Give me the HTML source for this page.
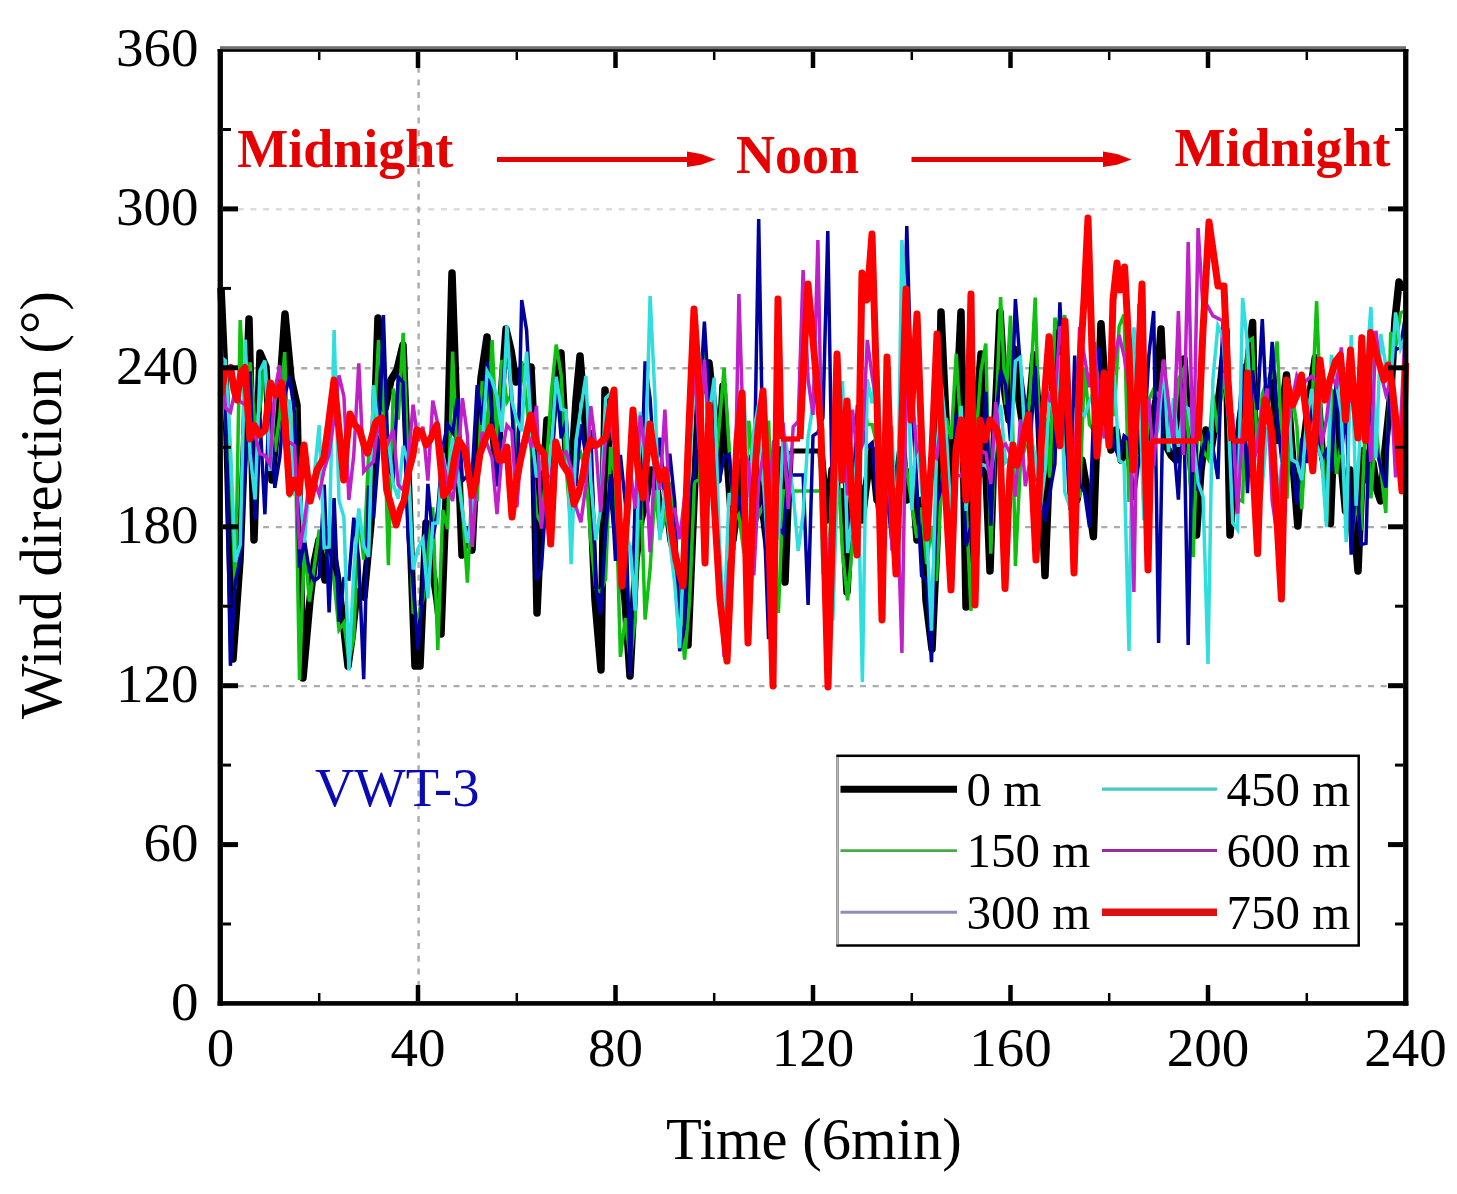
<!DOCTYPE html>
<html><head><meta charset="utf-8"><style>
html,body{margin:0;padding:0;background:#fff;width:1457px;height:1194px;overflow:hidden}
svg{display:block}
</style></head><body>
<svg width="1457" height="1194" viewBox="0 0 1457 1194">
<g stroke-width="2.4" stroke-dasharray="6 6.7"><line x1="225" y1="209.3" x2="1401" y2="209.3" stroke="#dcdcdc"/><line x1="225" y1="368.2" x2="1401" y2="368.2" stroke="#ababab"/><line x1="225" y1="527.1" x2="1401" y2="527.1" stroke="#ababab"/><line x1="225" y1="686.1" x2="1401" y2="686.1" stroke="#ababab"/><line x1="418.6" y1="54" x2="418.6" y2="999" stroke="#ababab"/></g>
<g><polyline fill="none" stroke="#000" stroke-width="7.5" stroke-linejoin="round" points="221.0,288.0 226.0,400.0 233.0,659.0 240.0,560.0 244.5,444.3 249.0,319.0 254.0,540.0 260.0,353.0 266.0,367.0 272.0,480.0 279.0,400.0 285.0,314.0 291.0,378.0 297.0,405.0 303.0,678.0 310.0,600.0 314.5,561.2 319.0,540.0 325.0,580.0 331.0,540.0 337.0,575.0 343.0,620.0 348.0,666.0 352.0,637.3 356.0,600.0 360.0,591.1 364.0,597.0 371.0,523.0 378.0,318.0 385.0,409.0 391.0,380.0 397.0,370.0 403.0,345.0 409.0,500.0 415.0,666.0 420.0,666.0 426.0,523.0 431.0,560.0 437.0,600.0 441.0,634.0 446.0,500.0 452.0,273.0 457.0,420.0 462.0,555.0 467.0,530.0 472.0,550.0 477.0,450.0 481.0,378.0 487.0,337.0 492.0,420.0 497.0,480.0 501.0,400.0 506.0,329.0 511.0,350.0 516.0,382.0 521.0,370.0 525.0,367.0 531.0,367.0 533.0,409.0 537.0,613.0 542.0,500.0 547.0,420.0 551.0,440.0 556.0,380.0 561.0,353.0 566.0,450.0 571.0,480.0 576.0,400.0 580.0,356.0 585.0,420.0 590.0,480.0 595.0,600.0 601.0,670.0 605.0,390.0 610.0,470.0 615.0,520.0 620.0,560.0 625.0,600.0 630.0,676.0 636.0,560.0 641.0,520.0 646.0,500.0 651.0,470.0 656.0,480.0 661.0,520.0 666.0,500.0 671.0,540.0 676.0,560.0 682.0,600.0 688.0,645.0 694.0,500.0 700.0,370.0 705.0,390.0 709.0,363.0 714.0,409.0 718.0,480.0 723.0,386.0 728.0,470.0 733.0,540.0 738.0,500.0 743.0,460.0 748.0,470.0 753.0,456.0 759.0,491.0 764.0,520.0 769.0,560.0 775.0,520.0 780.0,450.0 785.0,582.0 790.0,451.0"/><polyline fill="none" stroke="#000" stroke-width="5" stroke-linejoin="round" points="790.0,451.0 821.0,451.0"/><polyline fill="none" stroke="#000" stroke-width="7.5" stroke-linejoin="round" points="821.0,451.0 827.0,520.0 832.0,470.0 837.0,500.0 842.0,492.0 847.0,592.0 852.0,500.0 857.0,470.0 862.0,520.0 867.0,480.0 872.0,450.0 877.0,500.0 882.0,470.0 887.0,430.0 892.0,520.0 897.0,480.0 902.0,440.0 907.0,500.0 912.0,470.0 917.0,540.0 922.0,500.0 926.0,600.0 932.0,649.0 937.0,540.0 941.0,312.0 946.0,420.0 951.0,500.0 956.0,420.0 961.0,312.0 966.0,607.0 971.0,500.0 976.0,420.0 981.0,354.0 985.0,450.0 990.0,571.0 995.0,420.0 1000.0,312.0 1005.0,394.0 1009.0,420.0 1014.0,349.0 1018.0,394.0 1022.0,420.0 1026.0,430.0 1030.0,400.0 1034.0,355.0 1039.0,420.0 1045.0,575.5 1050.0,450.0 1053.0,380.0 1057.0,329.0 1062.0,394.0 1067.0,440.0 1072.0,470.0 1077.0,500.0 1082.0,460.0 1087.0,490.0 1093.4,536.6 1097.0,430.0 1101.0,323.7 1106.0,400.0 1111.0,450.0 1116.0,430.0 1121.0,460.0 1126.0,440.0 1131.0,470.0 1136.0,430.0 1141.0,450.0 1146.0,470.0 1151.0,430.0 1156.0,400.0 1161.0,329.0 1166.0,445.7 1171.0,455.0 1176.0,460.0 1180.0,413.6 1184.0,359.0 1190.0,450.0 1196.5,535.0 1201.0,470.0 1206.0,430.0 1211.0,450.0 1216.0,420.0 1221.0,380.0 1226.0,330.0 1230.0,535.0 1235.0,470.0 1240.0,420.0 1246.0,380.0 1252.6,322.6 1255.0,450.0 1260.0,430.0 1266.0,400.0 1272.6,372.8 1276.4,440.6 1281.0,420.0 1286.5,375.0 1292.0,450.0 1297.8,526.0 1303.0,450.0 1309.0,400.0 1315.3,357.8 1322.0,450.0 1326.2,481.8 1330.4,523.5 1335.4,393.0 1340.0,450.0 1345.5,511.0 1350.0,470.0 1354.0,520.0 1358.0,571.0 1363.0,450.7 1368.0,480.0 1373.0,463.0 1377.0,490.0 1380.6,501.0 1385.0,450.0 1390.7,395.0 1395.0,320.0 1399.0,282.0 1404.0,290.0"/><polyline fill="none" stroke="#10c010" stroke-width="3.5" points="220.5,362.2 225.4,420.4 230.4,464.1 235.3,588.9 240.2,320.0 245.2,407.0 250.1,362.5 255.1,427.7 260.0,407.0 264.9,363.2 269.9,412.4 274.8,451.7 279.8,415.2 284.7,352.1 289.6,497.5 294.6,407.4 299.5,680.0 304.4,542.4 309.4,601.5 314.3,566.6 319.2,529.8 324.2,546.1 329.1,560.7 334.1,581.2 339.0,629.9 343.9,622.8 348.9,660.0 353.8,638.1 358.8,512.4 363.7,559.6 368.6,454.8 373.6,438.4 378.5,340.0 383.4,392.6 388.4,565.1 393.3,388.6 398.2,419.7 403.2,332.9 408.1,464.8 413.1,612.3 418.0,615.9 422.9,599.8 427.9,552.0 432.8,507.4 437.8,650.0 442.7,510.0 447.6,529.1 452.6,351.6 457.5,467.1 462.4,508.3 467.4,582.6 472.3,480.9 477.2,501.1 482.2,381.2 487.1,439.2 492.1,340.0 497.0,445.5 501.9,359.9 506.9,402.0 511.8,393.8 516.8,464.0 521.7,361.0 526.6,401.9 531.6,453.9 536.5,514.0 541.4,524.3 546.4,466.6 551.3,393.2 556.2,344.6 561.2,375.4 566.1,466.8 571.1,529.3 576.0,464.1 580.9,453.8 585.9,471.6 590.8,540.5 595.8,589.3 600.7,592.1 605.6,578.7 610.6,446.9 615.5,480.0 620.4,656.9 625.4,618.0 630.3,660.3 635.2,617.0 640.2,468.1 645.1,619.5 650.1,569.0 655.0,490.0 659.9,534.7 664.9,518.9 669.8,481.9 674.8,550.7 679.7,602.1 684.6,659.7 689.6,600.5 694.5,482.0 699.4,479.3 704.4,346.0 709.3,434.9 714.2,484.7 719.2,426.3 724.1,367.9 729.1,447.7 734.0,521.9 738.9,514.3 743.9,553.1 748.8,420.7 753.8,473.4 758.7,515.8 763.6,504.3 768.6,420.5 773.5,563.2 778.4,613.0 783.4,491.0 788.3,491.0 793.2,491.0 798.2,491.0 803.1,491.0 808.1,491.0 813.0,491.0 817.9,491.0 822.9,491.0 827.8,592.0 832.8,459.8 837.7,461.9 842.6,554.4 847.6,600.4 852.5,542.5 857.4,504.1 862.4,389.6 867.3,424.2 872.2,424.7 877.2,446.2 882.1,498.0 887.1,448.8 892.0,524.9 896.9,487.2 901.9,444.9 906.8,470.5 911.8,504.2 916.7,538.1 921.6,507.5 926.6,564.0 931.5,526.0 936.4,580.8 941.4,488.1 946.3,418.2 951.2,439.0 956.2,353.8 961.1,434.7 966.1,502.7 971.0,610.8 975.9,439.8 980.9,371.1 985.8,343.5 990.8,553.6 995.7,425.8 1000.6,297.0 1005.6,404.7 1010.5,315.7 1015.4,565.9 1020.4,464.2 1025.3,446.9 1030.2,392.9 1035.2,297.6 1040.1,456.7 1045.1,417.8 1050.0,477.6 1054.9,317.7 1059.9,334.0 1064.8,315.1 1069.8,490.4 1074.7,440.8 1079.6,497.7 1084.6,367.3 1089.5,424.6 1094.4,430.9 1099.4,353.6 1104.3,427.3 1109.2,400.3 1114.2,415.9 1119.1,326.7 1124.1,314.5 1129.0,502.0 1133.9,389.4 1138.9,376.7 1143.8,503.9 1148.8,399.8 1153.7,388.9 1158.6,396.5 1163.6,382.4 1168.5,439.4 1173.4,437.7 1178.4,379.6 1183.3,369.8 1188.2,433.4 1193.2,557.2 1198.1,414.9 1203.1,450.4 1208.0,458.6 1212.9,394.4 1217.9,432.5 1222.8,373.1 1227.8,407.2 1232.7,438.4 1237.6,498.9 1242.6,501.5 1247.5,341.6 1252.4,338.5 1257.4,451.8 1262.3,393.8 1267.2,381.3 1272.2,377.0 1277.1,341.6 1282.1,455.3 1287.0,498.6 1291.9,390.2 1296.9,426.7 1301.8,509.1 1306.8,409.1 1311.7,415.3 1316.6,301.2 1321.6,434.0 1326.5,522.0 1331.4,388.6 1336.4,473.9 1341.3,442.7 1346.2,500.4 1351.2,541.4 1356.1,502.7 1361.1,530.4 1366.0,402.1 1370.9,498.5 1375.9,426.1 1380.8,470.2 1385.8,513.0 1390.7,332.4 1395.6,346.1 1400.6,313.1 1405.5,310.6"/><polyline fill="none" stroke="#00009c" stroke-width="3.5" points="220.5,355.5 225.4,391.7 230.4,665.8 235.3,581.5 240.2,560.2 245.2,469.9 250.1,371.5 255.1,519.4 260.0,418.9 264.9,514.3 269.9,388.8 274.8,487.8 279.8,457.3 284.7,396.2 289.6,375.9 294.6,413.9 299.5,567.6 304.4,539.8 309.4,571.5 314.3,581.1 319.2,577.0 324.2,484.5 329.1,612.5 334.1,498.0 339.0,621.8 343.9,578.6 348.9,579.0 353.8,517.7 358.8,559.8 363.7,679.3 368.6,485.7 373.6,518.1 378.5,453.6 383.4,315.0 388.4,468.3 393.3,477.2 398.2,376.8 403.2,382.4 408.1,537.7 413.1,583.7 418.0,649.7 422.9,588.1 427.9,483.8 432.8,538.4 437.8,510.1 442.7,447.7 447.6,424.3 452.6,432.4 457.5,398.3 462.4,480.8 467.4,475.9 472.3,472.4 477.2,385.1 482.2,424.7 487.1,361.6 492.1,415.4 497.0,486.5 501.9,404.1 506.9,329.2 511.8,404.4 516.8,504.6 521.7,300.0 526.6,330.2 531.6,424.7 536.5,580.3 541.4,568.1 546.4,491.2 551.3,486.3 556.2,377.7 561.2,438.4 566.1,420.7 571.1,482.8 576.0,484.2 580.9,424.3 585.9,456.3 590.8,429.8 595.8,588.0 600.7,614.5 605.6,532.0 610.6,474.4 615.5,560.9 620.4,454.9 625.4,503.3 630.3,676.0 635.2,498.9 640.2,519.6 645.1,361.4 650.1,398.6 655.0,476.1 659.9,437.7 664.9,499.3 669.8,453.7 674.8,502.4 679.7,651.1 684.6,623.5 689.6,486.5 694.5,475.0 699.4,408.2 704.4,321.7 709.3,404.9 714.2,420.6 719.2,481.9 724.1,457.0 729.1,454.5 734.0,508.3 738.9,497.8 743.9,524.8 748.8,469.6 753.8,502.6 758.7,219.0 763.6,500.9 768.6,639.2 773.5,538.8 778.4,528.0 783.4,533.6 788.3,475.0 793.2,475.0 798.2,475.0 803.1,475.0 808.1,605.0 813.0,435.9 817.9,432.4 822.9,418.0 827.8,231.0 832.8,529.2 837.7,487.6 842.6,458.8 847.6,523.8 852.5,508.4 857.4,405.2 862.4,429.2 867.3,447.4 872.2,442.8 877.2,506.3 882.1,538.8 887.1,495.3 892.0,543.1 896.9,573.5 901.9,445.9 906.8,226.0 911.8,401.0 916.7,482.3 921.6,575.7 926.6,581.1 931.5,662.2 936.4,505.1 941.4,486.6 946.3,437.9 951.2,566.3 956.2,413.7 961.1,435.3 966.1,546.1 971.0,525.5 975.9,465.6 980.9,476.7 985.8,391.9 990.8,525.7 995.7,420.8 1000.6,370.2 1005.6,385.0 1010.5,441.0 1015.4,299.1 1020.4,367.8 1025.3,405.1 1030.2,443.5 1035.2,366.3 1040.1,479.8 1045.1,521.4 1050.0,491.4 1054.9,464.1 1059.9,302.4 1064.8,406.4 1069.8,509.5 1074.7,355.5 1079.6,483.5 1084.6,492.5 1089.5,526.9 1094.4,392.5 1099.4,348.0 1104.3,433.5 1109.2,421.6 1114.2,444.9 1119.1,457.9 1124.1,435.9 1129.0,439.9 1133.9,500.2 1138.9,460.1 1143.8,443.2 1148.8,356.2 1153.7,311.0 1158.6,643.0 1163.6,369.2 1168.5,440.7 1173.4,438.5 1178.4,499.6 1183.3,383.8 1188.2,645.0 1193.2,388.5 1198.1,490.8 1203.1,447.2 1208.0,432.9 1212.9,448.1 1217.9,479.0 1222.8,321.8 1227.8,356.3 1232.7,500.4 1237.6,442.9 1242.6,363.8 1247.5,493.1 1252.4,370.5 1257.4,409.8 1262.3,319.2 1267.2,423.3 1272.2,341.8 1277.1,417.0 1282.1,463.3 1287.0,414.4 1291.9,454.9 1296.9,504.5 1301.8,438.3 1306.8,463.0 1311.7,402.4 1316.6,441.8 1321.6,459.9 1326.5,450.6 1331.4,471.2 1336.4,376.2 1341.3,454.5 1346.2,407.7 1351.2,554.6 1356.1,473.4 1361.1,544.4 1366.0,543.4 1370.9,363.9 1375.9,446.4 1380.8,467.5 1385.8,487.6 1390.7,366.5 1395.6,349.7 1400.6,347.2 1405.5,315.1"/><polyline fill="none" stroke="#30dede" stroke-width="3.5" points="220.5,356.9 225.4,360.6 230.4,445.1 235.3,562.0 240.2,544.7 245.2,339.7 250.1,453.4 255.1,499.5 260.0,370.7 264.9,360.6 269.9,471.0 274.8,399.2 279.8,381.8 284.7,428.4 289.6,399.5 294.6,491.8 299.5,485.3 304.4,542.6 309.4,480.7 314.3,474.7 319.2,425.2 324.2,547.8 329.1,547.0 334.1,330.0 339.0,500.5 343.9,517.3 348.9,670.6 353.8,570.8 358.8,508.4 363.7,546.0 368.6,556.8 373.6,385.2 378.5,430.7 383.4,443.4 388.4,440.6 393.3,484.3 398.2,498.7 403.2,446.0 408.1,461.8 413.1,569.5 418.0,548.5 422.9,539.3 427.9,598.3 432.8,523.4 437.8,522.7 442.7,452.7 447.6,478.8 452.6,437.9 457.5,472.8 462.4,511.5 467.4,542.8 472.3,512.3 477.2,469.8 482.2,446.7 487.1,371.4 492.1,380.4 497.0,396.6 501.9,431.8 506.9,325.6 511.8,400.7 516.8,420.2 521.7,431.4 526.6,351.7 531.6,434.4 536.5,477.3 541.4,464.6 546.4,479.1 551.3,448.1 556.2,376.7 561.2,409.1 566.1,410.5 571.1,564.3 576.0,440.9 580.9,408.2 585.9,376.1 590.8,481.3 595.8,540.2 600.7,508.3 605.6,398.3 610.6,393.2 615.5,436.0 620.4,552.7 625.4,532.4 630.3,546.8 635.2,610.5 640.2,411.9 645.1,473.3 650.1,296.0 655.0,397.9 659.9,540.2 664.9,489.9 669.8,541.7 674.8,584.2 679.7,648.2 684.6,536.2 689.6,470.4 694.5,366.6 699.4,352.3 704.4,510.7 709.3,414.2 714.2,377.8 719.2,538.5 724.1,621.6 729.1,493.0 734.0,510.4 738.9,403.0 743.9,392.5 748.8,496.9 753.8,431.0 758.7,403.8 763.6,482.2 768.6,560.6 773.5,510.3 778.4,539.5 783.4,430.0 788.3,456.4 793.2,494.3 798.2,551.0 803.1,514.1 808.1,436.9 813.0,404.7 817.9,364.5 822.9,574.2 827.8,536.5 832.8,620.9 837.7,471.0 842.6,381.0 847.6,553.0 852.5,514.0 857.4,446.7 862.4,682.0 867.3,379.3 872.2,403.3 877.2,363.4 882.1,480.9 887.1,490.9 892.0,426.2 896.9,560.0 901.9,240.0 906.8,323.3 911.8,510.0 916.7,424.9 921.6,490.2 926.6,529.1 931.5,630.6 936.4,459.1 941.4,384.5 946.3,432.9 951.2,521.9 956.2,475.3 961.1,405.9 966.1,510.8 971.0,447.9 975.9,449.3 980.9,464.3 985.8,465.7 990.8,474.1 995.7,439.6 1000.6,404.8 1005.6,462.3 1010.5,457.5 1015.4,361.2 1020.4,357.2 1025.3,443.7 1030.2,431.1 1035.2,457.7 1040.1,509.0 1045.1,471.2 1050.0,391.1 1054.9,419.8 1059.9,355.3 1064.8,492.1 1069.8,507.0 1074.7,481.9 1079.6,411.9 1084.6,415.6 1089.5,401.3 1094.4,390.1 1099.4,434.2 1104.3,402.6 1109.2,443.6 1114.2,375.0 1119.1,460.4 1124.1,463.6 1129.0,651.0 1133.9,327.4 1138.9,366.1 1143.8,520.1 1148.8,493.5 1153.7,444.4 1158.6,426.8 1163.6,360.4 1168.5,452.2 1173.4,398.1 1178.4,446.8 1183.3,406.3 1188.2,408.4 1193.2,440.3 1198.1,483.2 1203.1,496.6 1208.0,664.0 1212.9,379.5 1217.9,325.9 1222.8,336.3 1227.8,404.1 1232.7,522.8 1237.6,529.6 1242.6,298.0 1247.5,344.5 1252.4,435.1 1257.4,519.2 1262.3,486.9 1267.2,426.8 1272.2,455.2 1277.1,496.7 1282.1,461.4 1287.0,379.7 1291.9,459.7 1296.9,462.7 1301.8,480.0 1306.8,420.6 1311.7,389.0 1316.6,444.9 1321.6,458.6 1326.5,527.2 1331.4,354.9 1336.4,383.1 1341.3,413.0 1346.2,542.3 1351.2,335.1 1356.1,505.8 1361.1,418.8 1366.0,373.6 1370.9,307.0 1375.9,457.8 1380.8,334.1 1385.8,365.8 1390.7,383.3 1395.6,312.4 1400.6,348.4 1405.5,335.9"/><polyline fill="none" stroke="#c020c8" stroke-width="3.5" points="220.5,337.4 225.4,407.9 230.4,412.2 235.3,390.0 240.2,401.5 245.2,404.7 250.1,422.0 255.1,435.7 260.0,453.9 264.9,455.3 269.9,464.4 274.8,390.0 279.8,365.3 284.7,445.6 289.6,442.3 294.6,445.6 299.5,549.2 304.4,522.2 309.4,480.2 314.3,480.7 319.2,494.4 324.2,469.5 329.1,453.8 334.1,418.3 339.0,375.5 343.9,396.4 348.9,499.8 353.8,454.8 358.8,363.4 363.7,471.8 368.6,466.1 373.6,461.6 378.5,418.6 383.4,454.5 388.4,441.5 393.3,429.8 398.2,484.8 403.2,490.1 408.1,463.3 413.1,404.7 418.0,441.2 422.9,426.7 427.9,480.7 432.8,400.7 437.8,424.0 442.7,457.9 447.6,485.1 452.6,501.0 457.5,465.4 462.4,398.2 467.4,435.1 472.3,546.8 477.2,475.2 482.2,431.9 487.1,444.0 492.1,458.1 497.0,514.0 501.9,454.0 506.9,425.2 511.8,431.0 516.8,507.4 521.7,444.3 526.6,431.1 531.6,447.2 536.5,405.9 541.4,528.6 546.4,476.9 551.3,475.3 556.2,449.5 561.2,455.1 566.1,452.0 571.1,467.7 576.0,507.2 580.9,522.3 585.9,484.9 590.8,406.1 595.8,445.8 600.7,512.1 605.6,437.0 610.6,425.3 615.5,451.4 620.4,583.4 625.4,520.1 630.3,469.7 635.2,508.7 640.2,415.5 645.1,451.1 650.1,552.2 655.0,458.0 659.9,489.8 664.9,409.5 669.8,509.4 674.8,509.2 679.7,539.1 684.6,496.9 689.6,438.6 694.5,364.8 699.4,450.1 704.4,359.6 709.3,443.2 714.2,519.0 719.2,573.2 724.1,657.0 729.1,561.3 734.0,548.8 738.9,294.0 743.9,451.7 748.8,463.5 753.8,575.5 758.7,482.0 763.6,452.0 768.6,506.6 773.5,441.7 778.4,435.9 783.4,427.5 788.3,508.9 793.2,426.7 798.2,421.6 803.1,270.0 808.1,379.8 813.0,415.0 817.9,240.0 822.9,512.6 827.8,605.3 832.8,470.8 837.7,419.3 842.6,421.6 847.6,495.3 852.5,409.6 857.4,457.4 862.4,444.7 867.3,339.9 872.2,377.1 877.2,405.7 882.1,498.7 887.1,430.6 892.0,550.7 896.9,487.8 901.9,653.0 906.8,344.4 911.8,386.9 916.7,451.0 921.6,441.6 926.6,496.1 931.5,452.6 936.4,457.8 941.4,423.8 946.3,517.7 951.2,519.9 956.2,475.2 961.1,476.1 966.1,459.1 971.0,402.1 975.9,449.2 980.9,451.2 985.8,452.8 990.8,484.0 995.7,402.1 1000.6,448.6 1005.6,444.1 1010.5,454.4 1015.4,496.6 1020.4,419.3 1025.3,486.1 1030.2,460.1 1035.2,480.5 1040.1,480.4 1045.1,386.9 1050.0,400.8 1054.9,400.9 1059.9,326.2 1064.8,363.1 1069.8,471.3 1074.7,468.9 1079.6,327.0 1084.6,357.7 1089.5,387.3 1094.4,342.0 1099.4,409.3 1104.3,438.4 1109.2,399.2 1114.2,361.2 1119.1,335.0 1124.1,356.0 1129.0,387.1 1133.9,592.0 1138.9,303.7 1143.8,456.1 1148.8,398.8 1153.7,466.0 1158.6,402.8 1163.6,359.5 1168.5,401.8 1173.4,443.1 1178.4,311.0 1183.3,455.0 1188.2,242.0 1193.2,472.1 1198.1,228.0 1203.1,310.6 1208.0,306.6 1212.9,315.9 1217.9,318.4 1222.8,320.8 1227.8,413.4 1232.7,415.1 1237.6,513.7 1242.6,426.2 1247.5,404.2 1252.4,473.0 1257.4,442.1 1262.3,406.8 1267.2,388.5 1272.2,501.0 1277.1,534.7 1282.1,465.7 1287.0,429.1 1291.9,401.4 1296.9,375.6 1301.8,384.6 1306.8,380.1 1311.7,376.4 1316.6,380.9 1321.6,444.9 1326.5,418.9 1331.4,377.2 1336.4,385.5 1341.3,347.5 1346.2,407.6 1351.2,397.2 1356.1,389.1 1361.1,432.2 1366.0,380.6 1370.9,462.0 1375.9,330.7 1380.8,373.4 1385.8,394.2 1390.7,382.2 1395.6,477.3 1400.6,425.8 1405.5,321.2"/><polyline fill="none" stroke="#ff0000" stroke-width="7" stroke-linejoin="round" points="221.0,395.0 225.0,372.0 230.7,367.5 234.0,390.0 237.0,400.0 241.0,372.0 245.0,367.5 249.8,439.0 254.0,425.0 259.4,435.0 265.0,430.0 270.5,383.0 276.0,395.0 281.6,383.0 285.0,420.0 289.6,493.0 294.4,480.0 299.0,493.0 304.0,445.0 310.3,501.0 317.0,470.0 323.8,458.0 329.0,420.0 334.0,380.0 339.0,430.0 343.7,480.0 347.0,440.0 350.0,414.0 355.0,425.0 359.6,430.0 364.0,445.0 367.6,453.0 371.0,440.0 375.5,423.0 378.0,420.0 381.9,418.0 386.7,490.0 391.0,505.0 396.2,525.0 400.0,510.0 404.0,501.0 409.0,470.0 412.9,455.3 416.7,430.0 421.7,432.0 426.0,445.0 430.0,440.0 436.8,425.0 443.5,495.6 450.0,487.0 454.3,459.1 458.6,440.0 465.0,450.0 472.0,495.6 476.0,481.8 480.0,453.7 485.0,440.0 490.4,427.0 494.6,439.5 498.8,460.0 502.9,460.0 507.0,447.0 512.0,517.0 516.2,482.9 520.5,460.0 525.0,440.0 530.6,415.0 537.0,445.0 544.0,454.0 550.7,544.0 555.7,442.0 562.4,464.0 569.0,474.0 574.0,504.0 578.2,494.4 582.5,477.0 586.8,452.2 591.0,440.0 595.0,445.7 599.0,443.7 606.0,437.0 610.0,407.6 614.0,390.0 618.0,492.0 622.0,586.0 628.0,500.0 633.0,410.0 638.0,470.0 643.0,498.0 650.0,424.0 655.0,460.0 660.0,480.0 665.0,470.0 670.0,520.0 676.0,560.0 683.0,586.0 688.0,450.0 694.0,309.0 700.0,400.0 705.0,563.0 709.0,405.0 714.0,500.0 720.0,600.0 727.0,661.0 732.0,550.0 737.0,440.0 742.0,393.0 748.0,643.0 753.0,500.0 758.0,430.0 763.0,391.0 768.0,500.0 773.0,686.0 778.0,299.0 781.0,439.0"/><polyline fill="none" stroke="#ff0000" stroke-width="5.3" stroke-linejoin="round" points="781.0,439.0 800.0,439.0"/><polyline fill="none" stroke="#ff0000" stroke-width="7" stroke-linejoin="round" points="800.0,439.0 804.0,357.4 808.0,284.0 815.0,363.0 821.0,430.0 828.0,687.0 832.5,526.4 837.0,354.0 842.0,480.0 847.0,401.0 852.0,500.0 857.0,555.0 862.0,273.0 867.0,300.0 872.0,234.0 877.0,400.0 882.0,620.0 887.0,357.0 891.0,480.0 896.0,574.0 901.0,450.0 906.0,289.0 911.0,420.0 917.0,314.0 922.0,450.0 927.0,538.0 932.0,450.0 937.0,334.0 941.0,420.0 946.0,500.0 951.0,590.0 956.0,450.0 961.0,420.0 966.0,500.0 971.0,294.0 975.0,605.0 980.0,420.0 985.0,440.0 990.0,420.0 997.0,430.0 1000.0,445.0 1005.0,588.5 1010.0,470.0 1013.0,445.0 1017.0,465.0 1021.0,450.0 1025.0,430.0 1028.5,414.6 1032.0,480.0 1036.0,560.0 1042.0,430.0 1049.0,336.7 1054.0,400.0 1060.0,445.7 1065.0,321.0 1070.0,450.0 1074.0,573.0 1080.5,357.5 1084.0,300.0 1088.0,218.0 1092.0,350.0 1097.0,456.0 1104.0,373.0 1109.0,445.7 1113.0,300.0 1117.0,263.0 1120.0,290.0 1124.6,267.0 1129.0,350.0 1133.0,470.0 1137.0,400.0 1142.0,284.0 1145.0,450.0 1148.0,570.0 1151.0,441.0"/><polyline fill="none" stroke="#ff0000" stroke-width="5.3" stroke-linejoin="round" points="1151.0,441.0 1198.0,441.0"/><polyline fill="none" stroke="#ff0000" stroke-width="7" stroke-linejoin="round" points="1198.0,441.0 1203.0,330.0 1209.0,222.0 1213.0,250.0 1218.0,286.0 1224.0,286.0 1228.0,380.0 1232.0,441.0"/><polyline fill="none" stroke="#ff0000" stroke-width="5.3" stroke-linejoin="round" points="1232.0,441.0 1245.0,441.0"/><polyline fill="none" stroke="#ff0000" stroke-width="7" stroke-linejoin="round" points="1245.0,441.0 1247.5,373.0 1252.0,450.0 1257.6,553.6 1261.0,450.0 1265.0,400.0 1268.8,411.9 1272.6,440.0 1277.0,520.0 1281.4,599.0 1286.5,380.0 1292.7,405.0 1297.1,394.3 1301.5,375.0 1307.0,420.0 1312.8,470.8 1320.0,360.0 1325.0,400.0 1330.4,378.0 1335.4,361.7 1340.4,355.0 1345.5,420.0 1350.5,350.0 1354.2,401.0 1358.0,438.0 1361.8,337.7 1365.6,440.6 1370.6,332.6 1375.0,350.0 1380.6,367.8 1384.0,380.0 1388.0,365.0 1391.8,382.8 1395.7,418.0 1402.0,491.0 1405.7,363.0"/></g>
<g stroke="#000"><line x1="223" y1="924.0" x2="231" y2="924.0" stroke-width="3"/><line x1="1403" y1="924.0" x2="1395" y2="924.0" stroke-width="3"/><line x1="223" y1="844.6" x2="238" y2="844.6" stroke-width="5"/><line x1="1403" y1="844.6" x2="1388" y2="844.6" stroke-width="5"/><line x1="223" y1="765.1" x2="231" y2="765.1" stroke-width="3"/><line x1="1403" y1="765.1" x2="1395" y2="765.1" stroke-width="3"/><line x1="223" y1="685.7" x2="238" y2="685.7" stroke-width="5"/><line x1="1403" y1="685.7" x2="1388" y2="685.7" stroke-width="5"/><line x1="223" y1="606.2" x2="231" y2="606.2" stroke-width="3"/><line x1="1403" y1="606.2" x2="1395" y2="606.2" stroke-width="3"/><line x1="223" y1="526.8" x2="238" y2="526.8" stroke-width="5"/><line x1="1403" y1="526.8" x2="1388" y2="526.8" stroke-width="5"/><line x1="223" y1="447.3" x2="231" y2="447.3" stroke-width="3"/><line x1="1403" y1="447.3" x2="1395" y2="447.3" stroke-width="3"/><line x1="223" y1="367.8" x2="238" y2="367.8" stroke-width="5"/><line x1="1403" y1="367.8" x2="1388" y2="367.8" stroke-width="5"/><line x1="223" y1="288.4" x2="231" y2="288.4" stroke-width="3"/><line x1="1403" y1="288.4" x2="1395" y2="288.4" stroke-width="3"/><line x1="223" y1="208.9" x2="238" y2="208.9" stroke-width="5"/><line x1="1403" y1="208.9" x2="1388" y2="208.9" stroke-width="5"/><line x1="223" y1="129.5" x2="231" y2="129.5" stroke-width="3"/><line x1="1403" y1="129.5" x2="1395" y2="129.5" stroke-width="3"/><line x1="319.2" y1="1001" x2="319.2" y2="993" stroke-width="2.5"/><line x1="319.2" y1="52" x2="319.2" y2="60" stroke-width="2.5"/><line x1="418.0" y1="1001" x2="418.0" y2="985" stroke-width="4.5"/><line x1="418.0" y1="52" x2="418.0" y2="68" stroke-width="4.5"/><line x1="516.8" y1="1001" x2="516.8" y2="993" stroke-width="2.5"/><line x1="516.8" y1="52" x2="516.8" y2="60" stroke-width="2.5"/><line x1="615.5" y1="1001" x2="615.5" y2="985" stroke-width="4.5"/><line x1="615.5" y1="52" x2="615.5" y2="68" stroke-width="4.5"/><line x1="714.2" y1="1001" x2="714.2" y2="993" stroke-width="2.5"/><line x1="714.2" y1="52" x2="714.2" y2="60" stroke-width="2.5"/><line x1="813.0" y1="1001" x2="813.0" y2="985" stroke-width="4.5"/><line x1="813.0" y1="52" x2="813.0" y2="68" stroke-width="4.5"/><line x1="911.8" y1="1001" x2="911.8" y2="993" stroke-width="2.5"/><line x1="911.8" y1="52" x2="911.8" y2="60" stroke-width="2.5"/><line x1="1010.5" y1="1001" x2="1010.5" y2="985" stroke-width="4.5"/><line x1="1010.5" y1="52" x2="1010.5" y2="68" stroke-width="4.5"/><line x1="1109.2" y1="1001" x2="1109.2" y2="993" stroke-width="2.5"/><line x1="1109.2" y1="52" x2="1109.2" y2="60" stroke-width="2.5"/><line x1="1208.0" y1="1001" x2="1208.0" y2="985" stroke-width="4.5"/><line x1="1208.0" y1="52" x2="1208.0" y2="68" stroke-width="4.5"/><line x1="1306.8" y1="1001" x2="1306.8" y2="993" stroke-width="2.5"/><line x1="1306.8" y1="52" x2="1306.8" y2="60" stroke-width="2.5"/></g>
<g fill="#000"><rect x="217.6" y="49.1" width="5.3" height="956.6"/><rect x="1403.1" y="49.1" width="5.3" height="956.6"/><rect x="217.6" y="1001.1" width="1190.8" height="4.6"/><rect x="217.6" y="49.1" width="1190.8" height="2.7"/><rect x="220" y="46.2" width="1186" height="2.9" fill="#707070"/></g>
<g font-family="Liberation Serif" font-size="55" fill="#000"><text x="198.5" y="1019.8" text-anchor="end">0</text><text x="198.5" y="860.9" text-anchor="end">60</text><text x="198.5" y="702.0" text-anchor="end">120</text><text x="198.5" y="543.0" text-anchor="end">180</text><text x="198.5" y="384.1" text-anchor="end">240</text><text x="198.5" y="225.2" text-anchor="end">300</text><text x="198.5" y="66.3" text-anchor="end">360</text><text x="220.5" y="1066.3" text-anchor="middle">0</text><text x="418.0" y="1066.3" text-anchor="middle">40</text><text x="615.5" y="1066.3" text-anchor="middle">80</text><text x="813.0" y="1066.3" text-anchor="middle">120</text><text x="1010.5" y="1066.3" text-anchor="middle">160</text><text x="1208.0" y="1066.3" text-anchor="middle">200</text><text x="1405.5" y="1066.3" text-anchor="middle">240</text></g>
<text x="666" y="1159" font-family="Liberation Serif" font-size="58.6" fill="#000">Time (6min)</text>
<text transform="translate(61.2,719) rotate(-90)" font-family="Liberation Serif" font-size="58.6" fill="#000">Wind direction (°)</text>
<g font-family="Liberation Serif" font-weight="bold" font-size="54" fill="#e60000"><text x="237.3" y="166.5">Midnight</text><text x="736" y="173.3">Noon</text><text x="1174.5" y="166">Midnight</text></g>
<g stroke="#e60000" stroke-width="5" fill="#e60000"><line x1="497" y1="159.4" x2="695" y2="159.4"/><path d="M687 151.6 L701 154 L715.5 159.4 L701 164.8 L687 167 Z" stroke="none"/><line x1="911.5" y1="159.4" x2="1110" y2="159.4"/><path d="M1103 151.6 L1117 154 L1131.5 159.4 L1117 164.8 L1103 167 Z" stroke="none"/></g>
<text x="315" y="805.6" font-family="Liberation Serif" font-size="54.5" fill="#0a0ab4">VWT-3</text>
<g><rect x="837.5" y="755.8" width="521.2" height="189.7" fill="#fff" stroke="#000" stroke-width="2.5"/><line x1="837.5" y1="757" x2="837.5" y2="944.5" stroke="#bbb" stroke-width="2.5"/><line x1="840.5" y1="789.2" x2="957" y2="789.2" stroke="#000" stroke-width="7"/><text x="966.5" y="805.6" font-family="Liberation Serif" font-size="49" fill="#000">0 m</text><line x1="840.5" y1="850.6" x2="957" y2="850.6" stroke="#46aa46" stroke-width="2.8"/><text x="966.5" y="867.0" font-family="Liberation Serif" font-size="49" fill="#000">150 m</text><line x1="840.5" y1="912.2" x2="957" y2="912.2" stroke="#8c8cbe" stroke-width="3"/><text x="966.5" y="928.6" font-family="Liberation Serif" font-size="49" fill="#000">300 m</text><line x1="1102" y1="789.2" x2="1217" y2="789.2" stroke="#4cc8c8" stroke-width="3.2"/><text x="1226.5" y="805.6" font-family="Liberation Serif" font-size="49" fill="#000">450 m</text><line x1="1102" y1="850.6" x2="1217" y2="850.6" stroke="#a028a0" stroke-width="3"/><text x="1226.5" y="867.0" font-family="Liberation Serif" font-size="49" fill="#000">600 m</text><line x1="1102" y1="912.2" x2="1217" y2="912.2" stroke="#dd1111" stroke-width="7.5"/><text x="1226.5" y="928.6" font-family="Liberation Serif" font-size="49" fill="#000">750 m</text></g>
</svg></body></html>
